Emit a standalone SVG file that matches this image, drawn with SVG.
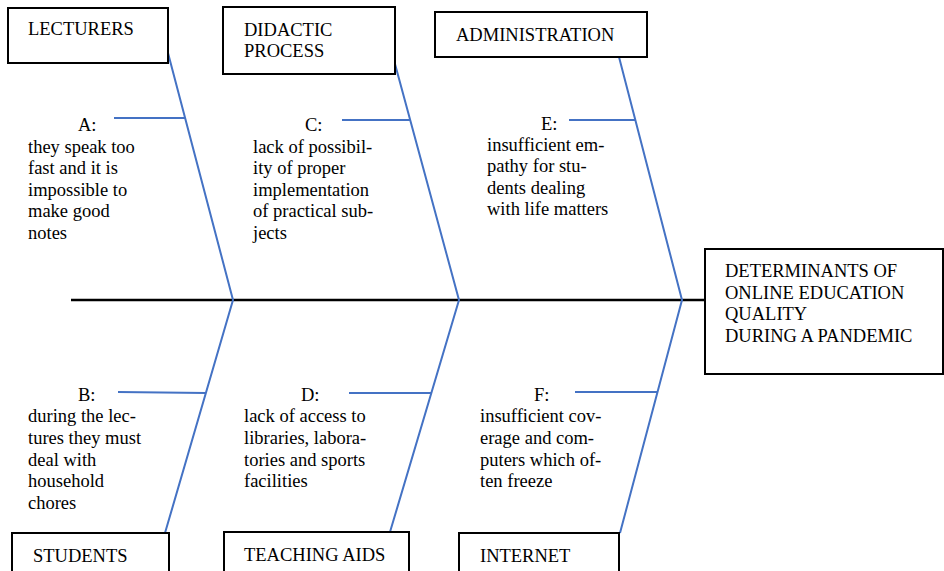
<svg xmlns="http://www.w3.org/2000/svg" width="944" height="571" viewBox="0 0 944 571">
<style>
.box{fill:#fff;stroke:#000;stroke-width:2}
.t{font-family:"Liberation Serif","Times New Roman",serif;font-size:18.5px;fill:#000}
.bone{stroke:#4472C4;stroke-width:2;fill:none}
.spine{stroke:#000;stroke-width:2.5;fill:none}
</style>
<rect width="944" height="571" fill="#fff"/>
<g id="connectors">
<line class="spine" x1="71" y1="300" x2="704" y2="300"/>
<polyline class="bone" points="168,53 233,300 165,533"/>
<polyline class="bone" points="395,64 459,300 390,532"/>
<polyline class="bone" points="619,57 682,300 620,533"/>
<line class="bone" x1="114" y1="118" x2="185" y2="118"/>
<line class="bone" x1="342" y1="120" x2="410" y2="120"/>
<line class="bone" x1="569" y1="120" x2="635" y2="120"/>
<line class="bone" x1="118" y1="392" x2="206" y2="393"/>
<line class="bone" x1="349" y1="393" x2="432" y2="393"/>
<line class="bone" x1="575" y1="392" x2="658" y2="392"/>
</g>
<g id="lecturers">
<rect class="box" x="8" y="8" width="160" height="55"/>
<text class="t" x="28" y="35">LECTURERS</text>
</g>
<g id="didactic">
<rect class="box" x="223" y="7" width="172" height="67"/>
<text class="t" x="244" y="36">DIDACTIC</text>
<text class="t" x="244" y="57">PROCESS</text>
</g>
<g id="administration">
<rect class="box" x="435" y="12" width="212" height="45"/>
<text class="t" x="456" y="41">ADMINISTRATION</text>
</g>
<g id="effect">
<rect class="box" x="705" y="249" width="238" height="125"/>
<text class="t" x="725" y="277">DETERMINANTS OF</text>
<text class="t" x="725" y="299">ONLINE EDUCATION</text>
<text class="t" x="725" y="320">QUALITY</text>
<text class="t" x="725" y="342">DURING A PANDEMIC</text>
</g>
<g id="students">
<rect class="box" x="12" y="533" width="157" height="50"/>
<text class="t" x="33" y="562">STUDENTS</text>
</g>
<g id="teaching-aids">
<rect class="box" x="224" y="532" width="185" height="50"/>
<text class="t" x="244" y="561">TEACHING AIDS</text>
</g>
<g id="internet">
<rect class="box" x="459" y="533" width="160" height="50"/>
<text class="t" x="480" y="562">INTERNET</text>
</g>
<g id="cause-a">
<text class="t" x="78" y="131">A:</text>
<text class="t" x="28" y="153">they speak too</text>
<text class="t" x="28" y="174">fast and it is</text>
<text class="t" x="28" y="196">impossible to</text>
<text class="t" x="28" y="217">make good</text>
<text class="t" x="28" y="239">notes</text>
</g>
<g id="cause-c">
<text class="t" x="305" y="131">C:</text>
<text class="t" x="253" y="153">lack of possibil-</text>
<text class="t" x="253" y="174">ity of proper</text>
<text class="t" x="253" y="196">implementation</text>
<text class="t" x="253" y="217">of practical sub-</text>
<text class="t" x="253" y="239">jects</text>
</g>
<g id="cause-e">
<text class="t" x="541" y="130">E:</text>
<text class="t" x="487" y="151">insufficient em-</text>
<text class="t" x="487" y="172">pathy for stu-</text>
<text class="t" x="487" y="194">dents dealing</text>
<text class="t" x="487" y="215">with life matters</text>
</g>
<g id="cause-b">
<text class="t" x="78" y="401">B:</text>
<text class="t" x="28" y="422">during the lec-</text>
<text class="t" x="28" y="444">tures they must</text>
<text class="t" x="28" y="466">deal with</text>
<text class="t" x="28" y="487">household</text>
<text class="t" x="28" y="509">chores</text>
</g>
<g id="cause-d">
<text class="t" x="301" y="401">D:</text>
<text class="t" x="244" y="422">lack of access to</text>
<text class="t" x="244" y="444">libraries, labora-</text>
<text class="t" x="244" y="466">tories and sports</text>
<text class="t" x="244" y="487">facilities</text>
</g>
<g id="cause-f">
<text class="t" x="534" y="401">F:</text>
<text class="t" x="480" y="422">insufficient cov-</text>
<text class="t" x="480" y="444">erage and com-</text>
<text class="t" x="480" y="466">puters which of-</text>
<text class="t" x="480" y="487">ten freeze</text>
</g>
</svg>
